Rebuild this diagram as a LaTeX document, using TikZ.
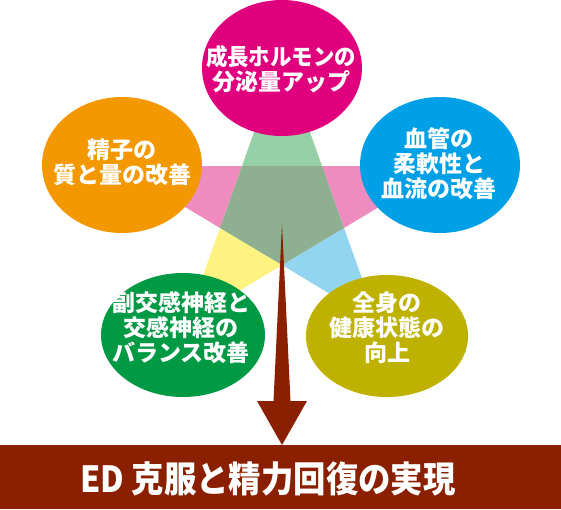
\documentclass[tikz,border=0pt]{standalone}
\usepackage{fontspec}
\setmainfont{Noto Sans CJK JP}
\usetikzlibrary{shapes.geometric}
\definecolor{bubblemagenta}{RGB}{224,0,126}
\definecolor{bubbleorange}{RGB}{243,152,0}
\definecolor{bubbleblue}{RGB}{0,160,230}
\definecolor{bubblegreen}{RGB}{0,153,68}
\definecolor{bubbleolive}{RGB}{191,177,0}
\definecolor{startop}{RGB}{150,208,166}
\definecolor{starpink}{RGB}{238,140,192}
\definecolor{staryellow}{RGB}{254,242,128}
\definecolor{starblue}{RGB}{147,212,240}
\definecolor{starcenter}{RGB}{143,175,145}
\definecolor{goalbrown}{RGB}{139,32,0}

\begin{document}
\begin{tikzpicture}[x=1pt, y=-1pt,
    bubble/.style={ellipse, inner sep=0pt, minimum width=160pt},
    bubbletext/.style={align=center, text=white, inner sep=0pt,
        font=\bfseries\fontsize{23}{25}\selectfont}]
\useasboundingbox (0,0) rectangle (561,509);
\fill[startop] (282,53) -- (322,166) -- (242,166) -- cycle;
\fill[starpink] (117,166) -- (242,166) -- (220,228) -- cycle;
\fill[starpink] (447,166) -- (322,166) -- (344,228) -- cycle;
\fill[staryellow] (186,323) -- (220,228) -- (282,265) -- cycle;
\fill[starblue] (378,323) -- (344,228) -- (282,265) -- cycle;
\fill[starcenter] (242,166) -- (322,166) -- (344,228) -- (282,265) -- (220,228) -- cycle;

\node[bubble, fill=bubblemagenta, minimum height=136pt] (growth) at (282,68) {};
\node[bubble, fill=bubbleorange, minimum height=136pt] (sperm) at (122,165) {};
\node[bubble, fill=bubbleblue, minimum height=136pt] (vessel) at (440,165) {};
\node[bubble, fill=bubblegreen, minimum width=164pt, minimum height=124pt] (nerve) at (183,335) {};
\node[bubble, fill=bubbleolive, minimum width=162pt, minimum height=122pt] (health) at (387,336) {};

\node[bubbletext] (growthtxt) at (281,69)
    {\scalebox{0.93}[1]{成長ホルモンの}\\分泌量アップ};
\node[bubbletext] (spermtxt) at (122,162) {精子の\\質と量の改善};
\node[bubbletext] (vesseltxt) at (439,164) {血管の\\柔軟性と\\血流の改善};
\node[bubbletext] (nervetxt) at (181,328) {副交感神経と\\交感神経の\\バランス改善};
\node[bubbletext] (healthtxt) at (387,328) {全身の\\健康状態の\\向上};

\node[fill=goalbrown, minimum width=561pt, minimum height=64pt, inner sep=0pt, anchor=north west] (goal) at (0,445) {};
\node[text=white, inner sep=0pt, font=\bfseries] (goaltxt) at (268,479)
    {\scalebox{0.9}[1]{\fontsize{36}{36}\selectfont ED 克服と精力回復の実現}};

\coordinate (arrowtop) at (282,224);
\fill[goalbrown] (arrowtop) -- ++(8.5,177) -- ++(16.5,0) -- (arrowtop |- goal.north)
    -- ++(-25,-44) -- ++(16.5,0) -- cycle;
\end{tikzpicture}
\end{document}
